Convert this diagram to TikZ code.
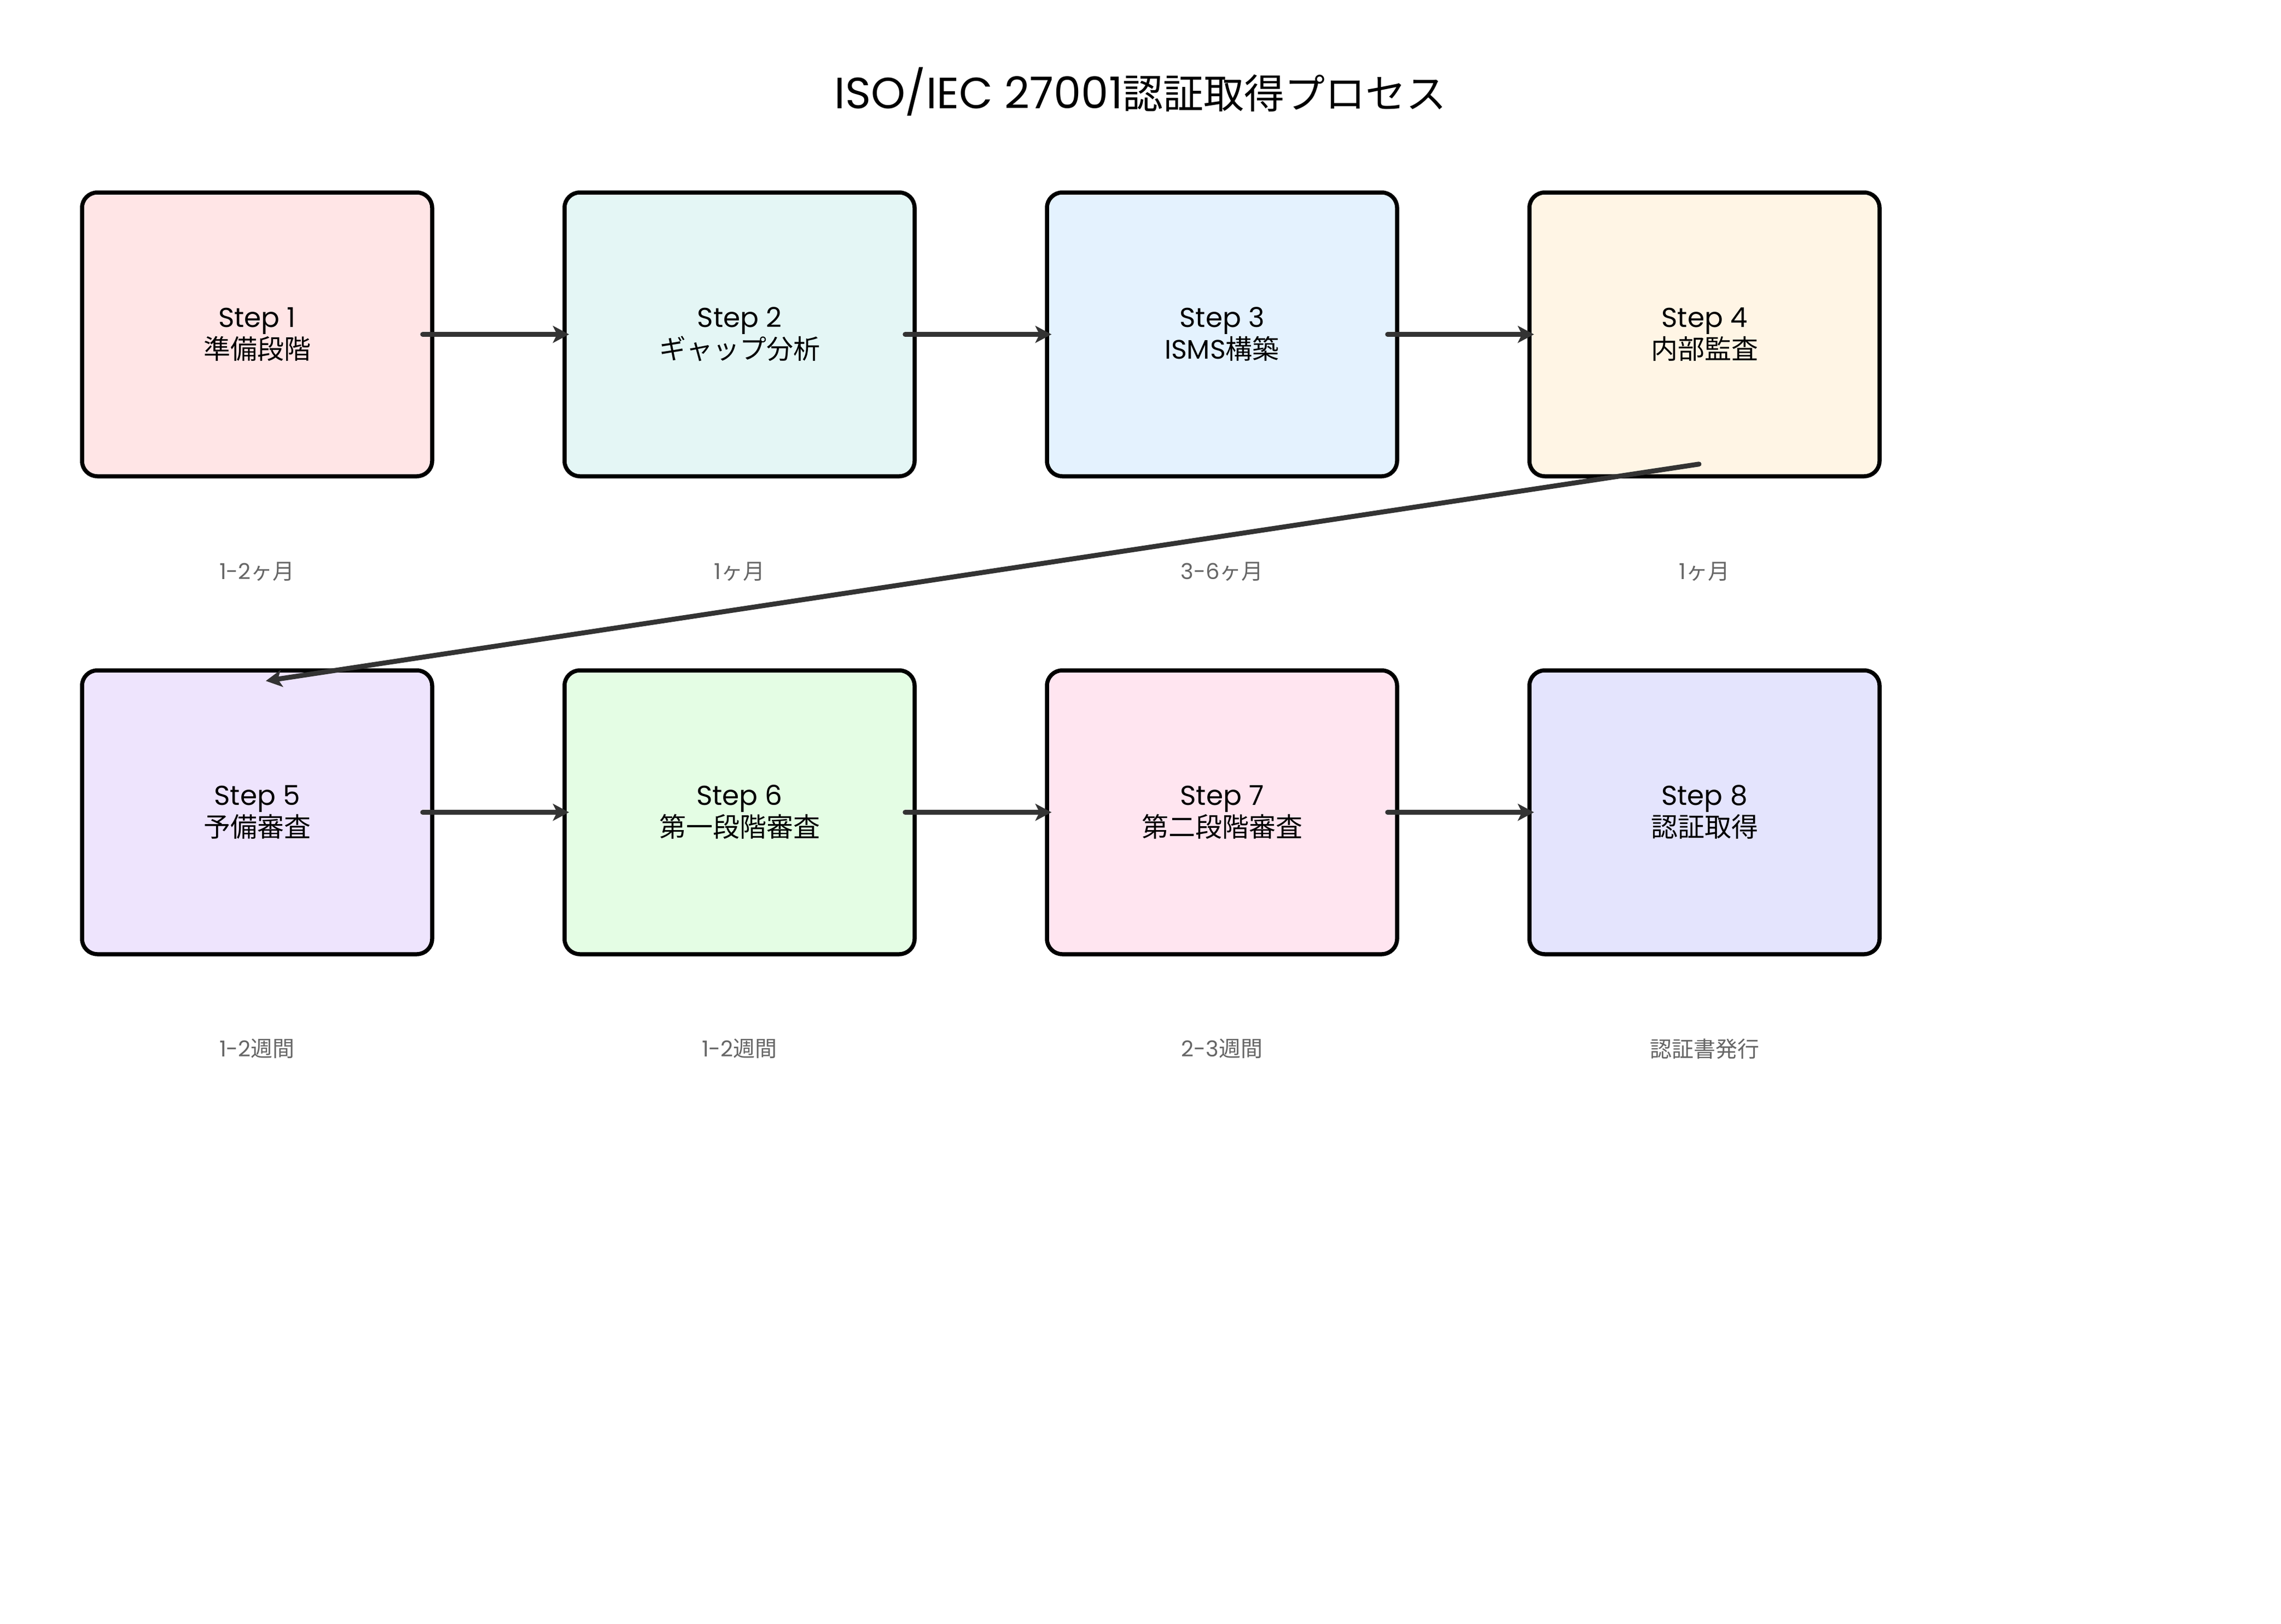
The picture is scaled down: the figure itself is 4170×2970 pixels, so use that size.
\documentclass[tikz,border=0pt]{standalone}
\usepackage{fontspec}
\setmainfont{Noto Sans CJK JP}
\newfontfamily\lat{Poppins}
\usetikzlibrary{arrows.meta}
\definecolor{c1}{HTML}{FFE5E6}
\definecolor{c2}{HTML}{E4F6F5}
\definecolor{c3}{HTML}{E4F2FE}
\definecolor{c4}{HTML}{FFF5E5}
\definecolor{c5}{HTML}{EEE4FD}
\definecolor{c6}{HTML}{E4FDE4}
\definecolor{c7}{HTML}{FFE5F0}
\definecolor{c8}{HTML}{E4E4FD}
\definecolor{arrgray}{HTML}{333333}
\definecolor{lblgray}{HTML}{666666}
\tikzset{
  stepbox/.style={draw=black, line width=7.5pt, rounded corners=28pt,
    minimum width=640pt, minimum height=519pt, inner sep=0pt,
    align=center, font=\fontsize{49}{58}\selectfont},
  arr/.style={draw=arrgray, line width=9pt, line cap=round,
    -{Stealth[length=30pt,width=32pt,inset=8pt,line width=0pt,round]}},
  lbl/.style={text=lblgray, font=\fontsize{40}{48}\selectfont, inner sep=0pt},
  ttl/.style={font=\fontsize{74}{88}\selectfont, inner sep=0pt}
}
\newcommand{\stp}[2]{{\lat\fontsize{50}{58}\selectfont Step #1}\\#2}
\begin{document}
\begin{tikzpicture}[x=1pt,y=-1pt]
\useasboundingbox[fill=white] (0,0) rectangle (4170,2970);
\node[ttl] (title) at (2085,168) {{\lat\fontsize{80}{88}\selectfont ISO/IEC 27001}認証取得プロセス};
\node[stepbox, fill=c1] (s1) at (470,611.5) {\stp{1}{準備段階}};
\node[stepbox, fill=c2] (s2) at (1352,611.5) {\stp{2}{ギャップ分析}};
\node[stepbox, fill=c3] (s3) at (2234,611.5) {\stp{3}{{\lat ISMS}構築}};
\node[stepbox, fill=c4] (s4) at (3116,611.5) {\stp{4}{内部監査}};
\node[stepbox, fill=c5] (s5) at (470,1485.5) {\stp{5}{予備審査}};
\node[stepbox, fill=c6] (s6) at (1352,1485.5) {\stp{6}{第一段階審査}};
\node[stepbox, fill=c7] (s7) at (2234,1485.5) {\stp{7}{第二段階審査}};
\node[stepbox, fill=c8] (s8) at (3116,1485.5) {\stp{8}{認証取得}};
\node[lbl] (l1) at (470,1045) {{\lat 1-2}ヶ月};
\node[lbl] (l2) at (1352,1045) {{\lat 1}ヶ月};
\node[lbl] (l3) at (2234,1045) {{\lat 3-6}ヶ月};
\node[lbl] (l4) at (3116,1045) {{\lat 1}ヶ月};
\node[lbl] (l5) at (470,1918) {{\lat 1-2}週間};
\node[lbl] (l6) at (1352,1918) {{\lat 1-2}週間};
\node[lbl] (l7) at (2234,1918) {{\lat 2-3}週間};
\node[lbl] (l8) at (3116,1918) {認証書発行};
\draw[arr] ([xshift=-21pt]s1.east) -- ([xshift=12pt]s2.west);
\draw[arr] ([xshift=-21pt]s2.east) -- ([xshift=12pt]s3.west);
\draw[arr] ([xshift=-21pt]s3.east) -- ([xshift=12pt]s4.west);
\draw[arr] ([xshift=-10pt,yshift=26pt]s4.south) -- ([xshift=16pt,yshift=-23pt]s5.north);
\draw[arr] ([xshift=-21pt]s5.east) -- ([xshift=12pt]s6.west);
\draw[arr] ([xshift=-21pt]s6.east) -- ([xshift=12pt]s7.west);
\draw[arr] ([xshift=-21pt]s7.east) -- ([xshift=12pt]s8.west);
\end{tikzpicture}
\end{document}
